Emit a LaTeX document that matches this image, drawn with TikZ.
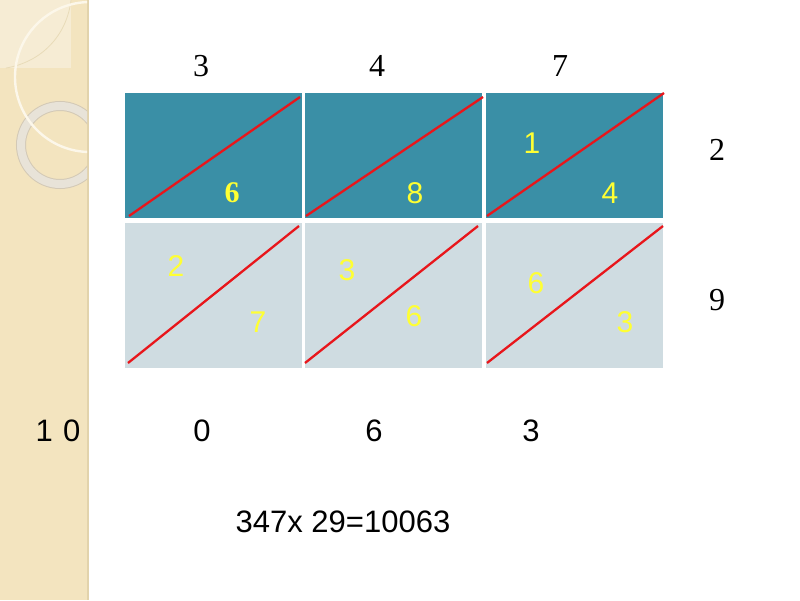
\documentclass[tikz,border=0pt]{standalone}
\usepackage{fontspec}
\setmainfont{Liberation Serif}
\setsansfont{Liberation Sans}
\definecolor{tealc}{HTML}{3A8FA6}
\definecolor{lightc}{HTML}{CFDCE1}
\definecolor{redl}{HTML}{E8161B}
\definecolor{yel}{HTML}{FFFF33}
\definecolor{beige}{HTML}{F3E4BF}
\definecolor{beigeL}{HTML}{F6ECD4}
\definecolor{beigeE}{HTML}{E2D3AC}
\definecolor{ringc}{HTML}{E8E3D8}
\definecolor{ringe}{HTML}{D3C9B6}
\definecolor{thinc}{HTML}{FCF7EA}
\tikzset{
  cellA/.style={rectangle,fill=tealc,draw=white,line width=1pt,minimum width=178pt,inner sep=0pt,minimum height=126pt},
  cellB/.style={rectangle,fill=lightc,draw=white,line width=1pt,minimum width=178pt,inner sep=0pt,minimum height=146pt},
  diag/.style={draw=redl,line width=2.3pt},
  ylab/.style={text=yel,font=\sffamily\fontsize{30}{30}\selectfont,inner sep=0pt},
  ylabb/.style={text=yel,font=\rmfamily\bfseries\fontsize{30}{30}\selectfont,inner sep=0pt},
  slab/.style={text=black,font=\rmfamily\fontsize{32}{32}\selectfont,inner sep=0pt},
  blab/.style={text=black,font=\sffamily\fontsize{31}{31}\selectfont,inner sep=0pt},
}
\begin{document}
\begin{tikzpicture}[x=1pt,y=-1pt]
\useasboundingbox (0,0) rectangle (800,600);
\fill[white] (0,0) rectangle (800,600);
% decorative strip
\fill[beige] (0,0) rectangle (88,600);
\draw[beigeE,line width=1.5pt] (88,0) -- (88,600);
\begin{scope}
\clip (0,0) rectangle (87,600);
\fill[beigeL] (0,0) rectangle (71,68);
\draw[beigeE!70!beigeL,line width=0.8pt] (71,0) .. controls (67,35) and (42,62) .. (6,68);
\draw[ringe,line width=10pt] (60,145) circle[radius=39];
\draw[ringc,line width=8pt] (60,145) circle[radius=39];
\draw[thinc,line width=2.4pt] (90,77) circle[radius=75];
\end{scope}
% top labels
\node[slab] (t1) at (201,66) {3};
\node[slab] (t2) at (377,66) {4};
\node[slab] (t3) at (560,66) {7};
% cells
\node[cellA] (a1) at (213,155) {};
\node[cellA] (a2) at (393,155) {};
\node[cellA] (a3) at (574,155) {};
\node[cellB] (b1) at (213,295) {};
\node[cellB] (b2) at (393,295) {};
\node[cellB] (b3) at (574,295) {};
% diagonals
\draw[diag] (129,216) -- (300,97);
\draw[diag] (306,216) -- (483,97);
\draw[diag] (487,216) -- (664,93);
\draw[diag] (128,363) -- (299,226);
\draw[diag] (305,363) -- (478,226);
\draw[diag] (487,363) -- (663,226);
% digits in cells
\node[ylabb] (d1) at (232,193) {6};
\node[ylab] (d2) at (415,193) {8};
\node[ylab] (d3) at (532,143) {1};
\node[ylab] (d4) at (610,193) {4};
\node[ylab] (e1) at (176,266) {2};
\node[ylab] (e2) at (258,322) {7};
\node[ylab] (e3) at (347,270) {3};
\node[ylab] (e4) at (414,316) {6};
\node[ylab] (e5) at (536,283) {6};
\node[ylab] (e6) at (625,322) {3};
% right labels
\node[slab] (r1) at (717,150) {2};
\node[slab] (r2) at (717,300) {9};
% result digits
\node[blab] (s0) at (58,431) {1\,\,0};
\node[blab] (s1) at (202,431) {0};
\node[blab] (s2) at (374,431) {6};
\node[blab] (s3) at (531,431) {3};
\node[blab] (eq) at (343,522) {347x 29=10063};
\end{tikzpicture}
\end{document}
